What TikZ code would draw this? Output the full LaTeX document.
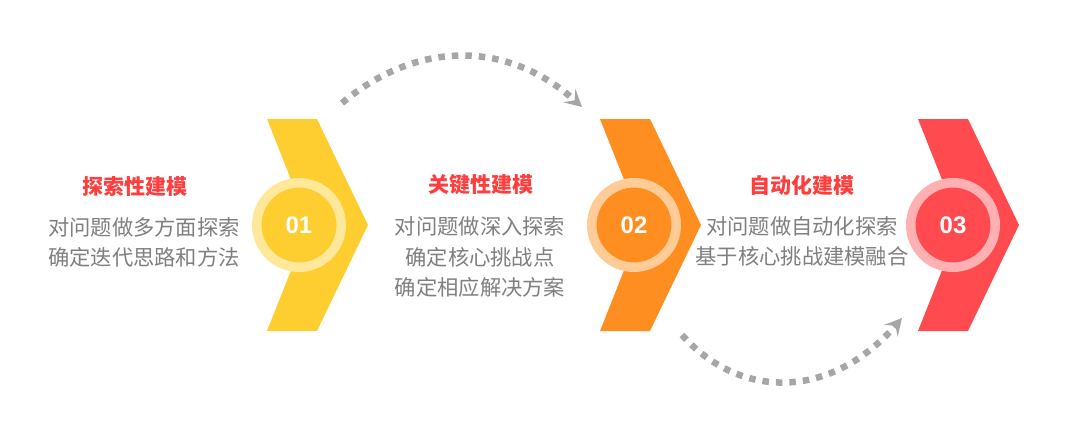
\documentclass[tikz,border=0pt]{standalone}
\usepackage{fontspec}
\setmainfont{Liberation Sans}
\newfontfamily\cjk{Noto Sans CJK SC}
\usetikzlibrary{arrows.meta}
\definecolor{cyel}{HTML}{FECD2F}
\definecolor{lyel}{HTML}{FFE89A}
\definecolor{corg}{HTML}{FF8E21}
\definecolor{lorg}{HTML}{FFCC98}
\definecolor{cred}{HTML}{FF4B4F}
\definecolor{lred}{HTML}{FFB0B2}
\definecolor{tred}{HTML}{FF3D3D}
\definecolor{tgray}{HTML}{7F7F7F}
\definecolor{agray}{HTML}{A6A6A6}

\begin{document}
\begin{tikzpicture}
[x=1pt,y=-1pt]
\tikzset{ring/.style={circle,line width=9.5pt,minimum size=84.5pt,inner sep=0pt,text=white,font=\fontsize{24}{24}\selectfont\bfseries}}
\tikzset{ttl/.style={text=tred,inner sep=0pt,font=\cjk\bfseries\fontsize{21}{30}\selectfont}}
\tikzset{txt/.style={text=tgray,inner sep=0pt,align=center,font=\cjk\fontsize{21.3}{30.5}\selectfont}}
\tikzset{dots/.style={draw=agray,line width=6.5pt,dash pattern=on 6.5pt off 7pt,-{Stealth[length=17pt,width=18pt,inset=7pt]}}}
\useasboundingbox (0,0) rectangle (1080,426);

\foreach \x/\c in {267/cyel,600/corg,918/cred}
	\fill [\c] (\x,119) -- ++(50,0) -- ++(51,106) -- ++(-51,106) -- ++(-50,0) -- ++(42,-106) -- cycle;

\node [ring,draw=lyel,fill=cyel] (c1) at (299,225) {01};
\node [ring,draw=lorg,fill=corg] (c2) at (634,225) {02};
\node [ring,draw=lred,fill=cred] (c3) at (953,225) {03};

\node [ttl] (t1) at (135,187) {探索性建模};
\node [txt] (b1) at (144,242.5) {对问题做多方面探索\\确定迭代思路和方法};
\node [ttl] (t2) at (481,185) {关键性建模};
\node [txt] (b2) at (480,257) {对问题做深入探索\\确定核心挑战点\\确定相应解决方案};
\node [ttl] (t3) at (802,185) {自动化建模};
\node [txt] (b3) at (802,241.5) {对问题做自动化探索\\基于核心挑战建模融合};

\coordinate (a1) at (342,103);
\coordinate (a2) at (582,107);
\coordinate (a3) at (682,335);
\coordinate (a4) at (902,318);
\draw [dots] (a1) .. controls (420,38) and (510,42) .. (a2);
\draw [dots] (a3) .. controls (740,400) and (831,400) .. (a4);

\end{tikzpicture}
\end{document}
